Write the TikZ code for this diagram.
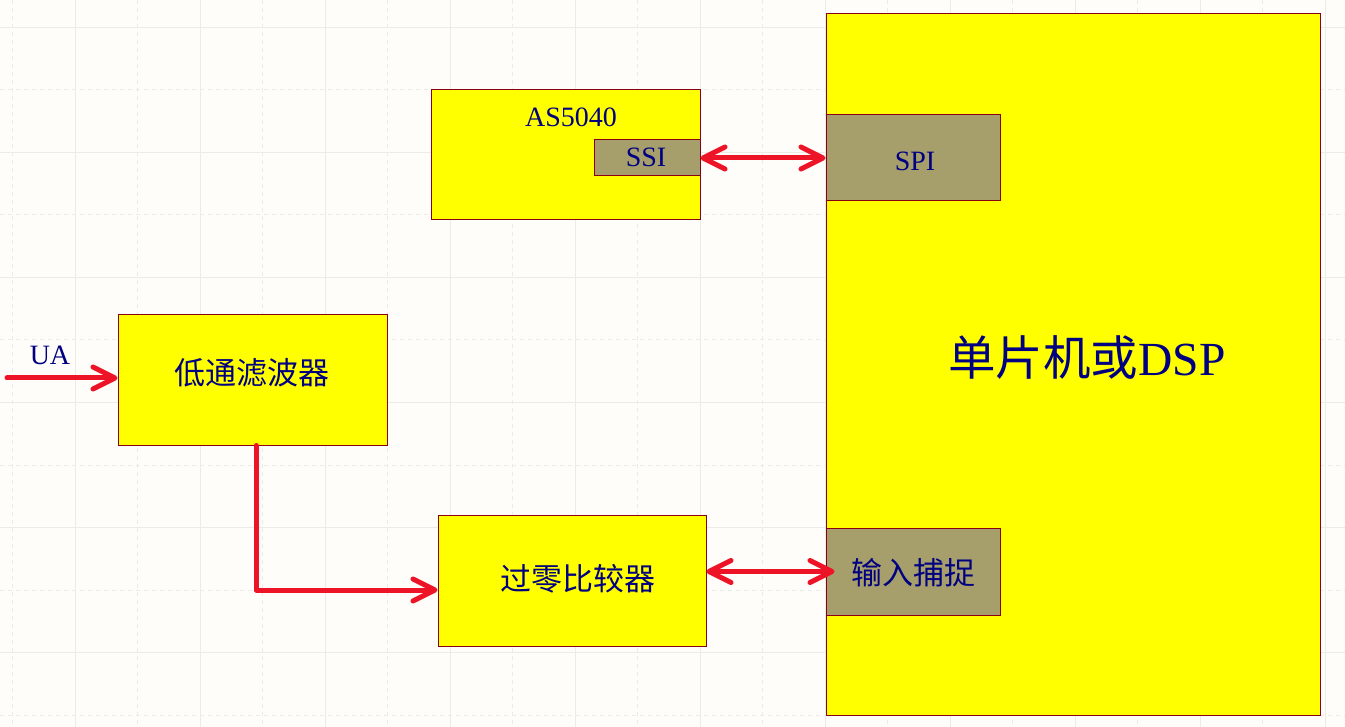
\documentclass[tikz,border=0pt]{standalone}
\usepackage{fontspec}
\setmainfont{Liberation Serif}
\newfontfamily\cjk{Noto Sans CJK SC}
\usetikzlibrary{arrows.meta,calc}
\definecolor{bg}{HTML}{FFFDF9}
\definecolor{gridc}{HTML}{ECEBE7}
\definecolor{boxy}{HTML}{FFFF00}
\definecolor{boxb}{HTML}{880011}
\definecolor{portc}{HTML}{A69F6B}
\definecolor{navy}{HTML}{000080}
\definecolor{wire}{HTML}{EE1427}
\tikzset{
  blk/.style={draw=boxb, fill=boxy, line width=1pt, inner sep=0pt, rectangle},
  port/.style={draw=boxb, fill=portc, line width=1pt, inner sep=0pt, rectangle},
  lat/.style={text=navy, font=\fontsize{28}{30}\selectfont, inner sep=0pt},
  han/.style={text=navy, font=\cjk\fontsize{31}{33}\selectfont, inner sep=0pt},
  wirea/.style={draw=wire, line width=5pt, line cap=round, line join=round},
  mytip/.tip={Straight Barb[length=22pt, width=22pt, line width=5pt, line cap=round, line join=round]}
}
\begin{document}
\begin{tikzpicture}[x=1pt,y=-1pt]
\useasboundingbox (0,0) rectangle (1345,727);
\fill[bg] (0,0) rectangle (1345,727);
% grid
\foreach \x in {75,200,...,1345} \draw[gridc, line width=1pt] (\x,0) -- (\x,727);
\foreach \x in {12.5,137.5,...,1345} \draw[gridc, line width=1pt, dash pattern=on 4pt off 4pt] (\x,0) -- (\x,727);
\foreach \y in {27.5,152.5,...,727} \draw[gridc, line width=1pt] (0,\y) -- (1345,\y);
\foreach \y in {90,215,...,727} \draw[gridc, line width=1pt, dash pattern=on 4pt off 4pt] (0,\y) -- (1345,\y);
% blocks
\node[blk, minimum width=269pt, minimum height=130pt] (as) at (565.5,155) {};
\node[port, minimum width=106pt, minimum height=36pt] (ssi) at (647,158) {};
\node[lat] (astxt) at (571,117) {AS5040};
\node[lat] (ssitxt) at (646,157) {SSI};
\node[blk, minimum width=494pt, minimum height=701pt] (mcu) at (1073,364.5) {};
\node[port, minimum width=174pt, minimum height=86pt] (spi) at (913,158) {};
\node[port, minimum width=174pt, minimum height=87pt] (cap) at (913,571.5) {};
\node[lat] (spitxt) at (915,161) {SPI};
\node[han] (captxt) at (913,573) {输入捕捉};
\node[text=navy, inner sep=0pt, font=\fontsize{47.5}{50}\selectfont] (mcutxt) at (1087,357) {{\cjk 单片机或}DSP};
\node[blk, minimum width=269pt, minimum height=130pt] (lpf) at (252.5,380) {};
\node[han] (lpftxt) at (252,373) {低通滤波器};
\node[blk, minimum width=268pt, minimum height=131pt] (cmp) at (572,580.5) {};
\node[han] (cmptxt) at (578,579) {过零比较器};
\node[lat] (uatxt) at (50,355) {UA};
\coordinate (uain) at (7,378);
% wires
\draw[wirea, -{mytip}] (uain) -- (uain -| lpf.west);
\draw[wirea, -{mytip}] ([xshift=3.5pt]lpf.south) |- ([yshift=-9.5pt]cmp.west);
\draw[wirea, {mytip}-{mytip}] (ssi.east) -- (spi.west);
\draw[wirea, {mytip}-{mytip}] (cap.west -| cmp.east) -- ([xshift=9pt]cap.west);
\end{tikzpicture}
\end{document}
